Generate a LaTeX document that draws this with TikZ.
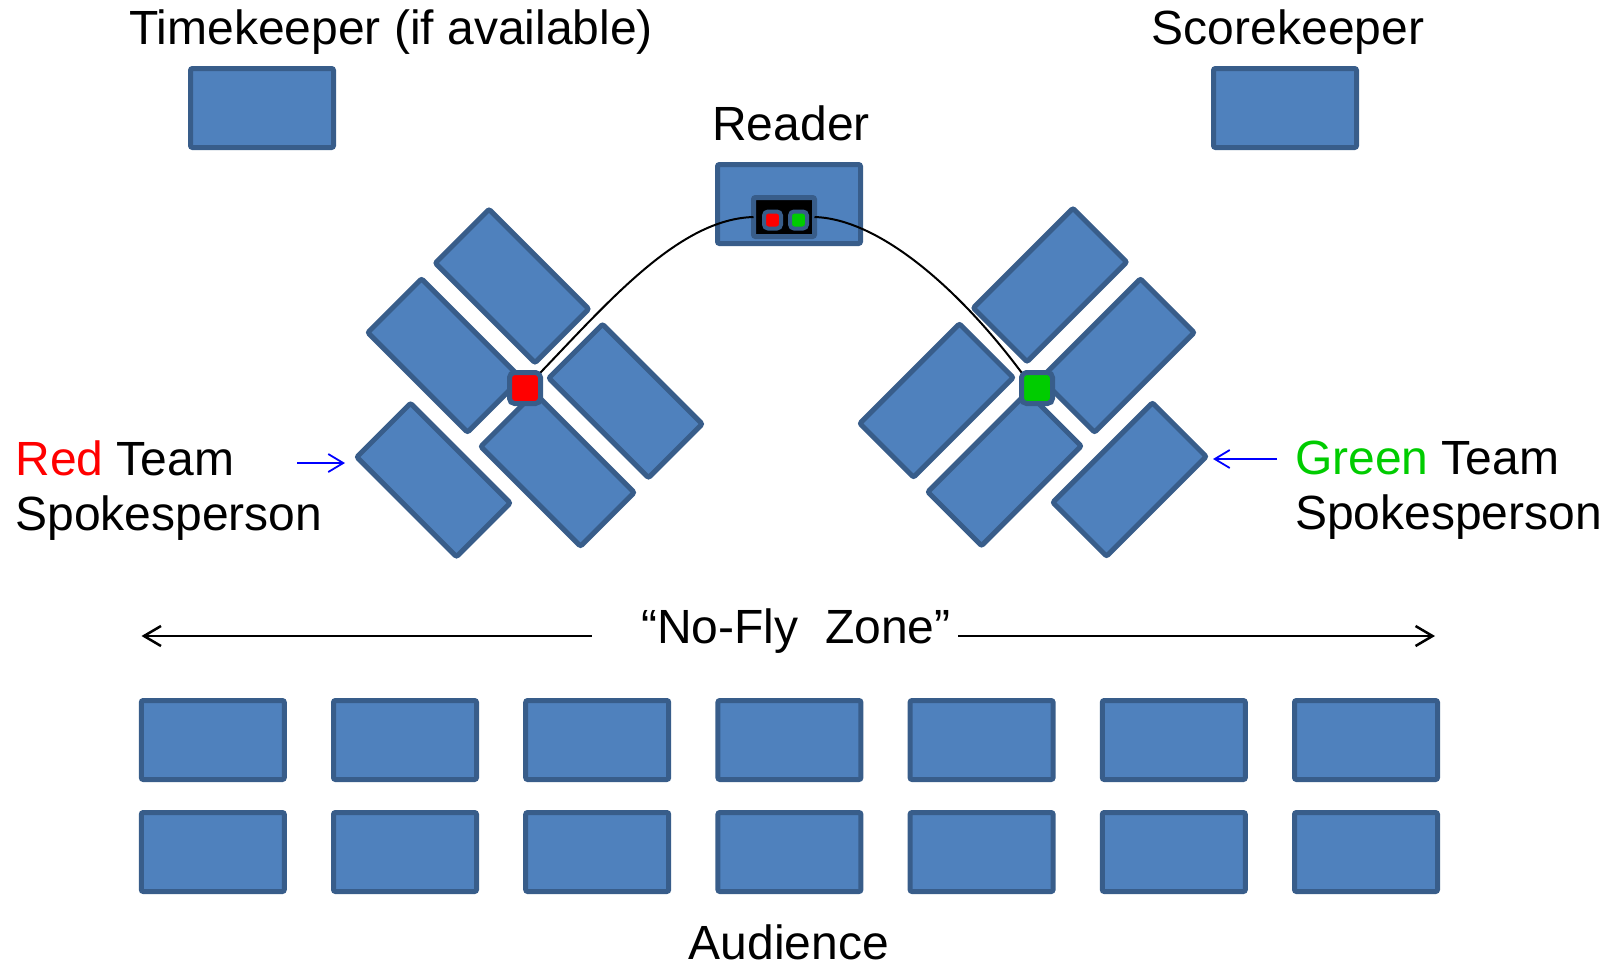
\documentclass[tikz,border=0pt]{standalone}
\usepackage{fontspec}
\setmainfont{Liberation Sans}
\usetikzlibrary{arrows.meta}
\definecolor{boxfill}{HTML}{4F81BD}
\definecolor{boxline}{HTML}{385D8A}
\definecolor{teamgreen}{HTML}{00CC00}
\definecolor{teamred}{HTML}{FF0000}
\begin{document}
\begin{tikzpicture}[x=1pt,y=-1pt,
  seat/.style={draw=boxline, fill=boxfill, line width=5pt, rounded corners=2pt,
    minimum width=143pt, minimum height=79pt, inner sep=0pt, outer sep=0pt},
  tbl/.style={seat, minimum width=141pt, minimum height=76pt},
  lbl/.style={font=\fontsize{48}{56}\selectfont, inner sep=0pt, outer sep=0pt},
  buzz/.style={draw=boxline, line width=5pt, rounded corners=5pt,
    minimum size=31pt, inner sep=0pt, outer sep=0pt},
  smallbuzz/.style={draw=boxline, line width=4pt, rounded corners=4pt,
    minimum size=17pt, inner sep=0pt, outer sep=0pt},
  wire/.style={black, line width=2pt},
  zonearrow/.style={black, line width=2.5pt, -{Straight Barb[length=17pt,width=20pt]}},
  pointer/.style={blue, line width=1.8pt, -{Straight Barb[length=15pt,width=18pt]}}
]
\useasboundingbox (0,0) rectangle (1611,967);

% top labels and desks
\node[lbl, anchor=base] (timek) at (391,44) {Timekeeper (if available)};
\node[lbl, anchor=base] (scorek) at (1288,44) {Scorekeeper};
\node[seat] (timedesk) at (262,108) {};
\node[seat] (scoredesk) at (1285,108) {};

% reader
\node[lbl, anchor=base] (readerlbl) at (791,140) {Reader};
\node[seat] (reader) at (789,204) {};

% left team tables
\node[tbl, rotate=-45] (tA) at (512,286) {};
\node[tbl, rotate=-45] (tB) at (444.5,355.5) {};
\node[tbl, rotate=-45] (tC) at (625.5,401) {};
\node[tbl, rotate=-45] (tD) at (557.5,469.5) {};
\node[tbl, rotate=-45] (tE) at (433.5,480) {};

% right team tables
\node[tbl, rotate=45] (tF) at (1050,285) {};
\node[tbl, rotate=45] (tG) at (1117.5,355.5) {};
\node[tbl, rotate=45] (tH) at (936.5,400.5) {};
\node[tbl, rotate=45] (tI) at (1004.5,469) {};
\node[tbl, rotate=45] (tJ) at (1129.5,479.5) {};

% buzzer console on the reader desk
\node[draw=boxline, fill=black, line width=5pt, rounded corners=2pt,
  minimum width=61pt, minimum height=39pt, inner sep=0pt, outer sep=0pt] (console) at (784,217) {};
\node[smallbuzz, fill=teamred] (rbtn) at (772.5,220) {};
\node[smallbuzz, fill=teamgreen] (gbtn) at (798.5,220) {};

% team buzzers
\node[buzz, fill=teamred] (rbuzz) at (525,388) {};
\node[buzz, fill=teamgreen] (gbuzz) at (1037,388) {};

% wires
\draw[wire] (rbuzz.north east) .. controls (610,300) and (680,219) .. (console.west);
\draw[wire] (console.east) .. controls (880,219) and (960,290) .. (gbuzz.north west);

% spokesperson labels
\node[lbl, anchor=base west] (redl1) at (15.5,475) {\textcolor{teamred}{Red} Team};
\node[lbl, anchor=base west] (redl2) at (15.5,530) {Spokesperson};
\node[lbl, anchor=base west] (grnl1) at (1295,474) {\textcolor{teamgreen}{Green} Team};
\node[lbl, anchor=base west] (grnl2) at (1295,529) {Spokesperson};

\coordinate (rpS) at (297,463);
\coordinate (rpT) at (345,463);
\coordinate (gpS) at (1277,459);
\coordinate (gpT) at (1213,459);
\draw[pointer] (rpS) -- (rpT);
\draw[pointer] (gpS) -- (gpT);

% no-fly zone
\node[lbl, anchor=base] (nofly) at (796,643) {“No-Fly\ \ Zone”};
\coordinate (nfLs) at (591.5,636);
\coordinate (nfLt) at (141.5,636);
\coordinate (nfRs) at (958,636);
\coordinate (nfRt) at (1435,636);
\draw[zonearrow] (nfLs) -- (nfLt);
\draw[zonearrow] (nfRs) -- (nfRt);

% audience
\foreach \i in {0,...,6} {
  \node[seat] (aud1\i) at (212.8+192.2*\i,740) {};
  \node[seat] (aud2\i) at (212.8+192.2*\i,852) {};
}
\node[lbl, anchor=base] (audience) at (789,959) {Audience};
\end{tikzpicture}
\end{document}
